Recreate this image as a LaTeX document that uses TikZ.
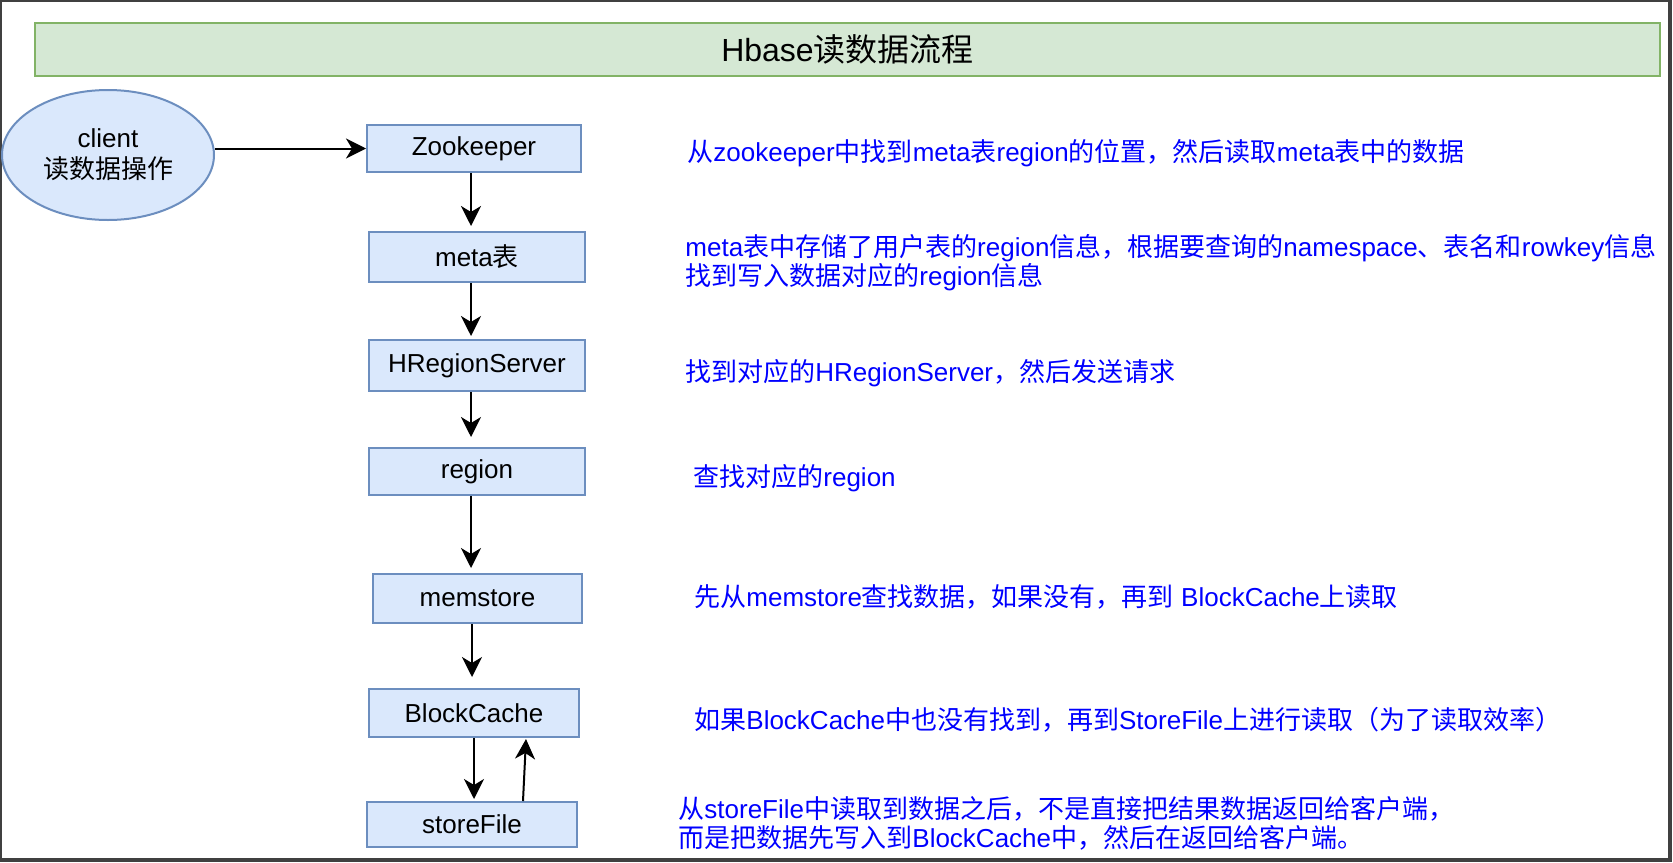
\documentclass[tikz,border=0pt]{standalone}
\usepackage{fontspec}
\setmainfont{Liberation Sans}
\newfontfamily\cjk{Noto Sans CJK SC}
\newcommand\zh[1]{{\cjk #1}}
\usetikzlibrary{arrows.meta,calc,shapes.geometric}
\definecolor{bfill}{HTML}{DAE8FC}
\definecolor{bdraw}{HTML}{6C8EBF}
\definecolor{gfill}{HTML}{D5E8D4}
\definecolor{gdraw}{HTML}{82B366}
\definecolor{framec}{HTML}{404040}
\definecolor{notec}{RGB}{0,0,255}
\begin{document}
\begin{tikzpicture}[x=0.5pt,y=-0.5pt,
  box/.style={draw=bdraw,fill=bfill,line width=1pt,inner sep=0pt,font=\fontsize{13}{15}\selectfont},
  arr/.style={line width=1pt,-{Stealth[length=10pt,width=10pt,inset=3pt]}},
  note/.style={anchor=west,inner sep=0pt,text=notec,align=left,font=\fontsize{13}{14.5}\selectfont}]
\useasboundingbox (0,0) rectangle (1673,862);
\fill[white] (0,0) rectangle (1673,862);
\draw[framec,line width=2pt] (0,0) rectangle (1670,860);

\node[draw=gdraw,fill=gfill,line width=1.25pt,minimum width=812.5pt,minimum height=26.5pt,inner sep=0pt,font=\fontsize{16}{18}\selectfont] (title) at (847.5,49.5) {Hbase\zh{读数据流程}};

\node[ellipse,draw=bdraw,fill=bfill,line width=1pt,minimum width=106pt,minimum height=65pt,inner sep=0pt,align=center,font=\fontsize{13}{15.5}\selectfont] (cl) at (108,155) {client\\\zh{读数据操作}};

\node[box,minimum width=107pt,minimum height=23.5pt] (zk) at (474,148.5) {Zookeeper};
\node[box,minimum width=108pt,minimum height=25pt] (meta) at (477,257) {meta\zh{表}};
\node[box,minimum width=108pt,minimum height=25.5pt] (hrs) at (477,365.5) {HRegionServer};
\node[box,minimum width=108pt,minimum height=23.5pt] (reg) at (477,471.5) {region};
\node[box,minimum width=104.5pt,minimum height=24.5pt] (mem) at (477.5,598.5) {memstore};
\node[box,minimum width=105pt,minimum height=24pt] (bc) at (474,713) {BlockCache};
\node[box,minimum width=105pt,minimum height=22.5pt] (sf) at (472,824.5) {storeFile};

\draw[arr] (cl.east |- zk.west) -- (zk.west);
\draw[arr] ($(zk.south)+(-3,0)$) -- ($(meta.north)+(-6,-5)$);
\draw[arr] ($(meta.south)+(-6,0)$) -- ($(hrs.north)+(-6,-3)$);
\draw[arr] ($(hrs.south)+(-6,0)$) -- ($(reg.north)+(-6,-10)$);
\draw[arr] ($(reg.south)+(-6,0)$) -- ($(mem.north)+(-6.5,-5)$);
\draw[arr] ($(mem.south)+(-5.5,0)$) -- ($(bc.north)+(-2,-11)$);
\draw[arr] ($(bc.south)+(0,0)$) -- ($(sf.north)+(2,-2)$);
\draw[arr] ($(sf.north)+(51,0)$) -- ($(bc.south)+(52,1)$);

\node[note] (t1) at (687,153) {\zh{从}zookeeper\zh{中找到}meta\zh{表}region\zh{的位置，然后读取}meta\zh{表中的数据}};
\node[note] (t2) at (685,262.5) {meta\zh{表中存储了用户表的}region\zh{信息，根据要查询的}namespace\zh{、表名和}rowkey\zh{信息}\\\zh{找到写入数据对应的}region\zh{信息}};
\node[note] (t3) at (685,373) {\zh{找到对应的}HRegionServer\zh{，然后发送请求}};
\node[note] (t4) at (693,478) {\zh{查找对应的}region};
\node[note] (t5) at (694,597) {\zh{先从}memstore\zh{查找数据，如果没有，再到} BlockCache\zh{上读取}};
\node[note] (t6) at (694,720) {\zh{如果}BlockCache\zh{中也没有找到，再到}StoreFile\zh{上进行读取（为了读取效率）}};
\node[note] (t7) at (678,823.5) {\zh{从}storeFile\zh{中读取到数据之后，不是直接把结果数据返回给客户端，}\\\zh{而是把数据先写入到}BlockCache\zh{中，然后在返回给客户端。}};
\end{tikzpicture}
\end{document}
